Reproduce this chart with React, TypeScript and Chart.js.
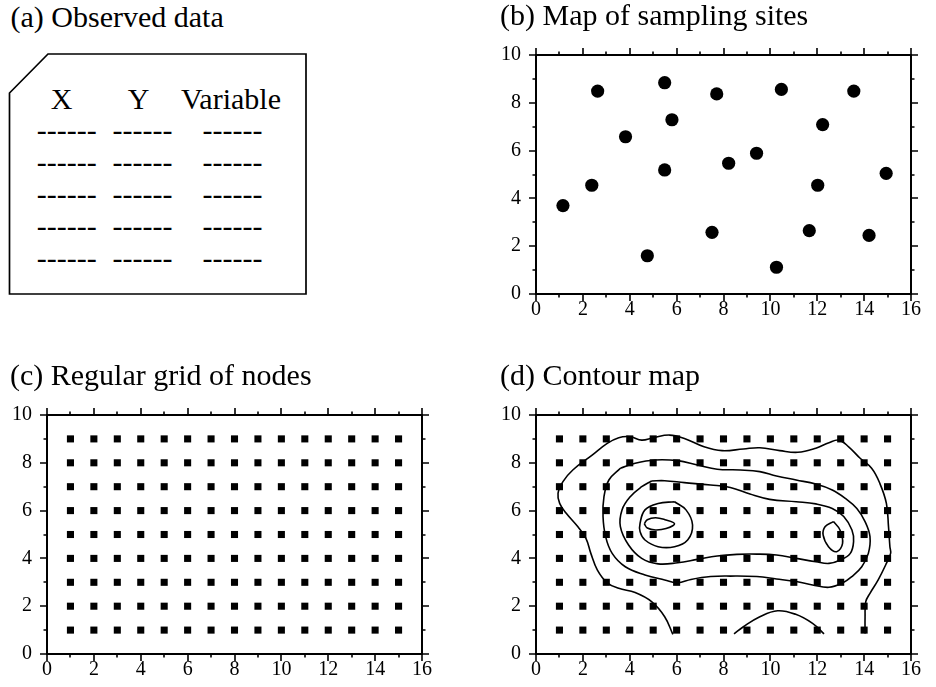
import React, { useEffect, useRef } from 'react';
import { Chart, registerables } from 'chart.js';

Chart.register(...registerables);

// ---------- data ----------
const xTickLabels = [0, 2, 4, 6, 8, 10, 12, 14, 16];
const yTickLabels = [0, 2, 4, 6, 8, 10];

// (b) sampling sites
const siteX = [1.15, 2.38, 2.63, 3.82, 4.75, 5.49, 5.49, 5.8, 7.51, 7.71, 8.22, 9.41, 10.26, 10.47, 11.66, 12.02, 12.23, 13.56, 14.21, 14.94];
const siteY = [3.7, 4.55, 8.49, 6.58, 1.6, 8.84, 5.19, 7.29, 2.58, 8.37, 5.47, 5.89, 1.12, 8.56, 2.65, 4.55, 7.09, 8.49, 2.45, 5.05];

// (c),(d) regular grid nodes
const nodeX = [1, 2, 3, 4, 5, 6, 7, 8, 9, 10, 11, 12, 13, 14, 15];
const nodeY = [1, 2, 3, 4, 5, 6, 7, 8, 9];

// (d) contour lines, [x, y]
const contourOuter = [
  [5.84, 0.82], [5.49, 1.56], [4.93, 2.19], [4.23, 2.57], [3.53, 2.75], [3.04, 2.98], [2.62, 3.51],
  [2.34, 4.21], [2.13, 4.84], [1.78, 5.33], [1.29, 5.89], [1.01, 6.3], [0.94, 6.72], [1.15, 7.21],
  [1.57, 7.7], [2.41, 8.33], [3.04, 8.81], [3.53, 9.05], [4.02, 9.09], [4.51, 8.95], [5.0, 9.05],
  [5.7, 9.16], [6.33, 9.02], [7.17, 8.67], [7.94, 8.51], [8.85, 8.58], [9.55, 8.63], [10.4, 8.51],
  [11.17, 8.44], [11.94, 8.61], [12.5, 8.84], [12.92, 8.95], [13.34, 8.67], [13.83, 8.19],
  [14.32, 7.77], [14.67, 7.14], [14.95, 6.3], [15.04, 5.33], [15.1, 4.49], [15.13, 4.21],
  [14.95, 3.79], [14.6, 3.1], [14.25, 2.54], [14.07, 2.19], [14.04, 1.56], [14.04, 0.86],
];
const contourSecond = [
  [3.6, 7.77], [4.23, 7.98], [5.07, 8.12], [6.05, 8.09], [6.89, 7.91], [7.73, 7.73], [8.71, 7.7],
  [9.55, 7.63], [10.26, 7.45], [11.1, 7.28], [11.94, 7.11], [12.64, 6.86], [13.2, 6.51], [13.69, 6.09],
  [14.04, 5.54], [14.25, 4.91], [14.18, 4.21], [13.9, 3.65], [13.48, 3.24], [13.06, 2.96], [12.5, 2.79],
  [11.8, 2.89], [11.1, 3.03], [10.26, 3.14], [9.42, 3.24], [8.29, 3.26], [7.45, 3.24], [6.61, 3.12],
  [6.05, 2.98], [5.49, 3.1], [4.65, 3.31], [3.81, 3.65], [3.25, 4.21], [2.97, 4.91], [2.86, 5.75],
  [2.9, 6.58], [3.11, 7.28], [3.6, 7.77],
];
const contourThird = [
  [4.93, 7.24], [5.49, 7.25], [6.33, 7.17], [7.45, 7.07], [8.29, 6.97], [9.13, 6.69], [9.97, 6.47],
  [11.1, 6.37], [11.94, 6.28], [12.64, 6.09], [13.13, 5.75], [13.48, 5.19], [13.55, 4.7], [13.41, 4.21],
  [12.99, 3.93], [12.5, 3.79], [11.94, 3.86], [11.1, 4.0], [10.26, 4.14], [9.42, 4.18], [8.57, 4.17],
  [7.73, 4.1], [6.89, 3.96], [6.05, 3.82], [5.21, 3.77], [4.51, 4.0], [3.95, 4.56], [3.6, 5.33],
  [3.67, 6.03], [4.02, 6.58], [4.51, 7.0], [4.93, 7.24],
];
const contourLeftRing = [
  [5.91, 6.37], [6.4, 6.03], [6.68, 5.4], [6.47, 4.77], [5.91, 4.49], [5.21, 4.49], [4.65, 4.77],
  [4.44, 5.12], [4.44, 5.47], [4.65, 6.03], [5.21, 6.3], [5.91, 6.37],
];
const contourLeftPeak = [
  [4.62, 5.45], [4.75, 5.62], [5.1, 5.7], [5.5, 5.62], [5.91, 5.45], [5.55, 5.25], [5.1, 5.19],
  [4.75, 5.27], [4.62, 5.45],
];
const contourRightPeak = [
  [12.69, 5.54], [12.97, 5.19], [13.08, 4.63], [12.83, 4.28], [12.48, 4.49], [12.25, 4.98],
  [12.34, 5.33], [12.69, 5.54],
];
const contourBottom = [
  [8.45, 0.84], [8.85, 1.14], [9.55, 1.56], [10.31, 1.81], [11.08, 1.66], [11.8, 1.28], [12.29, 0.84],
];

// ---------- helpers ----------
const SERIF = '"Liberation Serif", "Times New Roman", serif';
const X_MIN = 0, X_MAX = 16, Y_MIN = 0, Y_MAX = 10;

const framePlugin = {
  id: 'gmtFrame',
  afterDraw(chart: any) {
    const { ctx, chartArea } = chart;
    const { left, right, top, bottom } = chartArea;
    const xs = chart.scales.x;
    const ys = chart.scales.y;
    ctx.save();
    ctx.strokeStyle = '#000';
    ctx.lineCap = 'butt';
    ctx.lineWidth = 1.6;
    for (let v = X_MIN; v <= X_MAX; v += 1) {
      const px = Math.round(xs.getPixelForValue(v));
      const len = v % 2 === 0 ? 7 : 3.5;
      ctx.beginPath();
      ctx.moveTo(px, bottom);
      ctx.lineTo(px, bottom + len);
      ctx.moveTo(px, top);
      ctx.lineTo(px, top - len);
      ctx.stroke();
    }
    for (let v = Y_MIN; v <= Y_MAX; v += 1) {
      const py = Math.round(ys.getPixelForValue(v));
      const len = v % 2 === 0 ? 7 : 3.5;
      ctx.beginPath();
      ctx.moveTo(left, py);
      ctx.lineTo(left - len, py);
      ctx.moveTo(right, py);
      ctx.lineTo(right + len, py);
      ctx.stroke();
    }
    ctx.lineWidth = 2;
    ctx.strokeRect(left, top, right - left, bottom - top);
    ctx.restore();
  },
};

type PanelProps = {
  left: number;
  top: number;
  width: number;
  height: number;
  yAxisWidth: number;
  title: string;
  datasets: any[];
};

function ChartPanel({ left, top, width, height, yAxisWidth, title, datasets }: PanelProps) {
  const ref = useRef<HTMLCanvasElement | null>(null);
  useEffect(() => {
    if (!ref.current) return;
    const chart = new Chart(ref.current, {
      type: 'scatter',
      data: { datasets },
      options: {
        responsive: false,
        animation: false,
        devicePixelRatio: 1,
        layout: { padding: { left: 0, right: 8, top: 0, bottom: 2 } },
        plugins: {
          legend: { display: false },
          tooltip: { enabled: false },
          title: {
            display: true,
            text: title,
            align: 'start',
            color: '#000',
            font: { family: SERIF, size: 30, weight: 'normal', lineHeight: 1 },
            padding: { top: 2, bottom: 23 },
          },
        },
        scales: {
          x: {
            type: 'linear',
            position: 'bottom',
            min: X_MIN,
            max: X_MAX,
            afterBuildTicks: (scale: any) => {
              scale.ticks = xTickLabels.map((v) => ({ value: v }));
            },
            afterFit: (scale: any) => {
              scale.height = 30;
            },
            grid: { display: false, drawTicks: false },
            border: { display: false },
            ticks: {
              color: '#000',
              font: { family: SERIF, size: 20, lineHeight: 1.2 },
              padding: 4,
              maxRotation: 0,
              autoSkip: false,
            },
          },
          y: {
            type: 'linear',
            position: 'left',
            min: Y_MIN,
            max: Y_MAX,
            afterBuildTicks: (scale: any) => {
              scale.ticks = yTickLabels.map((v) => ({ value: v }));
            },
            afterFit: (scale: any) => {
              scale.width = yAxisWidth;
            },
            grid: { display: false, drawTicks: false },
            border: { display: false },
            ticks: {
              color: '#000',
              font: { family: SERIF, size: 20, lineHeight: 1.2 },
              padding: 15,
              autoSkip: false,
            },
          },
        },
      },
      plugins: [framePlugin],
    } as any);
    return () => chart.destroy();
  }, []);
  return (
    <canvas
      ref={ref}
      width={width}
      height={height}
      style={{ position: 'absolute', left, top, width, height }}
    />
  );
}

const toPts = (arr: number[][]) => arr.map(([x, y]) => ({ x, y }));

const sitesData = siteX.map((x, i) => ({ x, y: siteY[i] }));
const nodesData: { x: number; y: number }[] = [];
nodeY.forEach((y) => nodeX.forEach((x) => nodesData.push({ x, y })));

const nodeDataset = () => ({
  data: nodesData,
  pointStyle: 'rect',
  pointRadius: 5,
  pointBorderWidth: 0,
  pointBackgroundColor: '#000',
  showLine: false,
});

const contourDataset = (arr: number[][]) => ({
  type: 'line',
  data: toPts(arr),
  showLine: true,
  borderColor: '#000',
  borderWidth: 1.6,
  pointRadius: 0,
  tension: 0.4,
  fill: false,
});

function ObservedData() {
  const dashRows = [140, 172, 204, 236, 268];
  const dashCols = [66.7, 142.5, 232.5];
  return (
    <svg
      width={320}
      height={310}
      style={{ position: 'absolute', left: 0, top: 0 }}
      fontFamily={SERIF}
    >
      <text x={10.5} y={26.7} fontSize={30} fill="#000">(a) Observed data</text>
      <polygon
        points="48,54 306,54 306,294 9.5,294 9.5,93"
        fill="none"
        stroke="#000"
        strokeWidth={1.7}
      />
      <text x={61.7} y={109} fontSize={30} textAnchor="middle" fill="#000">X</text>
      <text x={138.5} y={109} fontSize={30} textAnchor="middle" fill="#000">Y</text>
      <text x={231} y={109} fontSize={30} textAnchor="middle" fill="#000">Variable</text>
      {dashRows.map((ry) =>
        dashCols.map((cx) => (
          <text key={`${ry}-${cx}`} x={cx} y={ry} fontSize={30} textAnchor="middle" fill="#000">
            ------
          </text>
        ))
      )}
    </svg>
  );
}

export default function App() {
  return (
    <div style={{ position: 'absolute', left: 0, top: 0, width: 936, height: 687, background: '#fff', overflow: 'hidden' }}>
      <ObservedData />
      <ChartPanel
        left={500}
        top={0}
        width={425}
        height={326}
        yAxisWidth={36}
        title="(b) Map of sampling sites"
        datasets={[
          {
            data: sitesData,
            pointStyle: 'circle',
            pointRadius: 6.6,
            pointBorderWidth: 0,
            pointBackgroundColor: '#000',
            showLine: false,
          },
        ]}
      />
      <ChartPanel
        left={10}
        top={360}
        width={426}
        height={326}
        yAxisWidth={37}
        title="(c) Regular grid of nodes"
        datasets={[nodeDataset()]}
      />
      <ChartPanel
        left={500}
        top={360}
        width={425}
        height={326}
        yAxisWidth={36}
        title="(d) Contour map"
        datasets={[
          nodeDataset(),
          contourDataset(contourOuter),
          contourDataset(contourSecond),
          contourDataset(contourThird),
          contourDataset(contourLeftRing),
          contourDataset(contourLeftPeak),
          contourDataset(contourRightPeak),
          contourDataset(contourBottom),
        ]}
      />
    </div>
  );
}
